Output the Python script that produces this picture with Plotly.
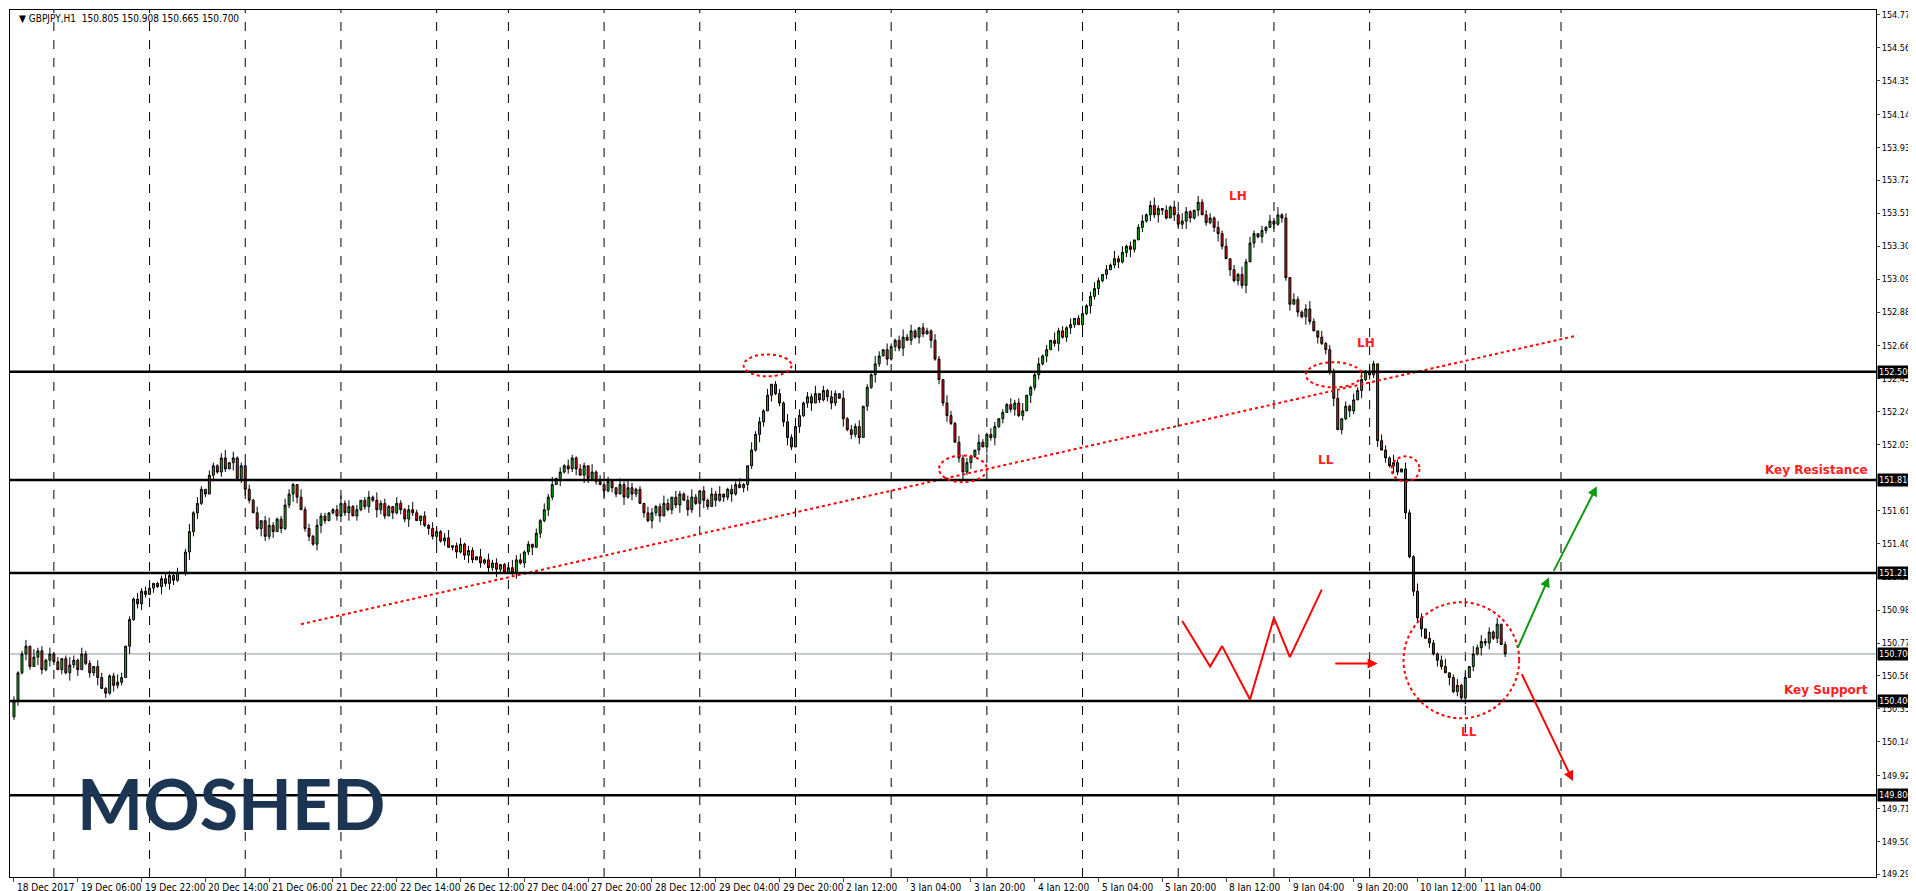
import plotly.graph_objects as go

closes = [
150.40,150.58,150.70,150.75,150.62,150.68,150.72,150.60,150.66,150.70,
150.65,150.60,150.67,150.58,150.63,150.66,150.60,150.70,150.64,150.58,
150.62,150.55,150.48,150.45,150.56,150.50,150.52,150.55,150.75,150.92,
151.05,151.02,151.10,151.08,151.12,151.15,151.13,151.18,151.15,151.20,
151.17,151.22,151.22,151.35,151.48,151.60,151.66,151.75,151.72,151.84,
151.90,151.86,151.95,151.88,151.92,151.95,151.82,151.90,151.75,151.68,
151.60,151.50,151.55,151.45,151.52,151.48,151.56,151.50,151.65,151.72,
151.78,151.70,151.62,151.50,151.45,151.40,151.52,151.58,151.55,151.60,
151.62,151.58,151.66,151.60,151.64,151.58,151.62,151.68,151.64,151.70,
151.68,151.62,151.66,151.58,151.64,151.60,151.66,151.62,151.56,151.62,
151.60,151.55,151.58,151.52,151.50,151.45,151.48,151.42,151.44,151.38,
151.39,151.35,151.40,151.33,151.36,151.30,151.32,151.28,151.30,151.25,
151.28,151.24,151.27,151.22,151.25,151.22,151.30,151.28,151.35,151.40,
151.38,151.47,151.55,151.62,151.70,151.78,151.82,151.86,151.90,151.88,
151.95,151.88,151.84,151.90,151.82,151.86,151.80,151.78,151.74,151.80,
151.76,151.72,151.78,151.70,151.76,151.72,151.75,151.66,151.60,151.55,
151.60,151.64,151.58,151.66,151.62,151.70,151.65,151.72,151.68,151.62,
151.70,151.66,151.74,151.68,151.64,151.72,151.68,151.72,151.70,151.75,
151.72,151.78,151.76,151.78,151.90,152.00,152.10,152.18,152.25,152.35,
152.42,152.36,152.30,152.18,152.08,152.02,152.15,152.22,152.30,152.34,
152.30,152.36,152.32,152.38,152.34,152.30,152.36,152.33,152.20,152.13,
152.10,152.15,152.08,152.28,152.40,152.48,152.55,152.60,152.64,152.58,
152.66,152.70,152.65,152.72,152.70,152.76,152.72,152.78,152.74,152.76,
152.70,152.58,152.45,152.30,152.22,152.17,152.05,151.95,151.86,151.92,
151.96,152.00,152.05,152.02,152.10,152.08,152.15,152.20,152.24,152.29,
152.26,152.30,152.22,152.25,152.35,152.40,152.48,152.55,152.60,152.64,
152.70,152.68,152.76,152.72,152.78,152.80,152.84,152.80,152.87,152.92,
152.98,153.03,153.08,153.12,153.15,153.18,153.22,153.20,153.26,153.30,
153.28,153.34,153.42,153.46,153.50,153.56,153.50,153.54,153.53,153.48,
153.55,153.50,153.44,153.46,153.52,153.48,153.53,153.58,153.50,153.45,
153.48,153.42,153.38,153.30,153.22,153.15,153.08,153.12,153.05,153.20,
153.32,153.38,153.36,153.40,153.42,153.46,153.44,153.50,153.48,153.10,
152.93,152.96,152.88,152.85,152.90,152.82,152.76,152.72,152.68,152.64,
152.50,152.33,152.13,152.20,152.28,152.25,152.32,152.38,152.45,152.50,
152.48,152.55,152.06,152.00,151.95,151.90,151.92,151.86,151.88,151.60,
151.32,151.10,150.93,150.86,150.80,150.77,150.70,150.66,150.62,150.58,
150.55,150.46,150.50,150.42,150.55,150.62,150.70,150.74,150.78,150.77,
150.84,150.80,150.89,150.76,150.70]

# wick extensions in 0.01 units (upper / lower)
hi_wick = ("31240523141302531422043112530214235012431302514203"
           "21350412231403521243105231422013524130241523104213"
           "52031421350241320514230125341203142503142132051423"
           "10425312043125304213520314250132410523140231520413"
           "25031420513240215304213524103214205314231052143021"
           "42350124130523140251342031524130241352031425310423"
           "31425031524203142513042135204132503142513204315204"
           "2153042135024130524231402")
lo_wick = ("23142053142031524013250314220513420315243102534120"
           "41320513420153240312540231452013425031241532041325"
           "20314251302413520314253102413250314205132405312041"
           "32051420315240132504213520413251034215304123520413"
           "50213420513240315204132503142051324103524130425130"
           "24130523140251342031524130241352031425310423531402"
           "13520413250314205132403152041325031420513240315204"
           "1325031420513240315241302")

first_open = 150.30

tick_pos = [0,16,32,48,64,80,96,112,128,144,160,176,192,208,224,240,256,272,288,304,320,336,352,368]
tick_text = ["18 Dec 2017","19 Dec 06:00","19 Dec 22:00","20 Dec 14:00","21 Dec 06:00","21 Dec 22:00",
             "22 Dec 14:00","26 Dec 12:00","27 Dec 04:00","27 Dec 20:00","28 Dec 12:00","29 Dec 04:00",
             "29 Dec 20:00","2 Jan 12:00","3 Jan 04:00","3 Jan 20:00","4 Jan 12:00","5 Jan 04:00",
             "5 Jan 20:00","8 Jan 12:00","9 Jan 04:00","9 Jan 20:00","10 Jan 12:00","11 Jan 04:00"]
grid_pos = [10,34,58,82,106,124,148,172,196,220,244,268,292,316,340,364,388]

y_ticks = [154.775,154.565,154.355,154.140,153.930,153.720,153.510,153.300,153.090,152.880,152.665,
           152.455,152.245,152.035,151.615,151.405,151.190,150.980,150.770,150.560,150.350,150.140,
           149.925,149.715,149.505,149.295]
level_lines = [152.500, 151.810, 151.217, 150.400, 149.800]
current_price = 150.700

trend_x = [72, 392]; trend_y = [150.89, 152.73]
ellipses = [(189,152.54,6,0.07),(238,151.88,6,0.085),(331,152.48,7,0.08),(349,151.88,3.5,0.08),(363,150.66,14.5,0.37)]
zig_x = [293,300,303,310,316,320,328]
zig_y = [150.91,150.62,150.75,150.41,150.93,150.68,151.11]
arrows = [  # x0,y0,x1,y1,color
    (331,150.64,342,150.64,"#ff0000"),
    (377,150.73,385,151.19,"#119911"),
    (386,151.22,397,151.77,"#119911"),
    (378,150.58,391,149.89,"#ff0000")]
marks = [("LH",307,153.62),("LH",339,152.68),("LL",329,151.94),("LL",365,150.20)]

FONT = "DejaVu Sans Condensed"

n = len(closes)
x = list(range(n))
opens = [first_open] + closes[:-1]
highs = [max(o, c) + int(hi_wick[i]) * 0.01 for i, (o, c) in enumerate(zip(opens, closes))]
lows = [min(o, c) - int(lo_wick[i]) * 0.01 for i, (o, c) in enumerate(zip(opens, closes))]

fig = go.Figure()
fig.add_trace(go.Candlestick(x=x, open=opens, high=highs, low=lows, close=closes,
    increasing=dict(line=dict(color="black", width=1), fillcolor="#22b222"),
    decreasing=dict(line=dict(color="black", width=1), fillcolor="#ee1111"),
    whiskerwidth=0, showlegend=False, hoverinfo="skip"))

shapes = []
for g in grid_pos:
    shapes.append(dict(type="line", xref="x", yref="paper", x0=g, x1=g, y0=0, y1=1,
                       line=dict(color="black", width=1, dash="dash"), layer="below"))
for lv in level_lines:
    shapes.append(dict(type="line", xref="paper", yref="y", x0=0, x1=1, y0=lv, y1=lv,
                       line=dict(color="black", width=2.5)))
shapes.append(dict(type="line", xref="paper", yref="y", x0=0, x1=1, y0=current_price, y1=current_price,
                   line=dict(color="#8a95a5", width=1), layer="below"))
for cx, cy, rx, ry in ellipses:
    shapes.append(dict(type="circle", xref="x", yref="y", x0=cx-rx, x1=cx+rx, y0=cy-ry, y1=cy+ry,
                       line=dict(color="#ff0000", width=2, dash="dot")))
fig.update_layout(shapes=shapes)

fig.add_trace(go.Scatter(x=trend_x, y=trend_y, mode="lines", line=dict(color="#ff0000", width=2, dash="dot"),
                         showlegend=False, hoverinfo="skip"))
fig.add_trace(go.Scatter(x=zig_x, y=zig_y, mode="lines", line=dict(color="#ff0000", width=2),
                         showlegend=False, hoverinfo="skip"))

ann = []
for x0, y0, x1, y1, col in arrows:
    ann.append(dict(x=x1, y=y1, ax=x0, ay=y0, xref="x", yref="y", axref="x", ayref="y", text="",
                    showarrow=True, arrowhead=2, arrowsize=1, arrowwidth=2, arrowcolor=col))
for t, mx, my in marks:
    ann.append(dict(x=mx, y=my, xref="x", yref="y", text="<b>"+t+"</b>", showarrow=False,
                    font=dict(color="#ff2020", size=12, family="DejaVu Sans")))
ann.append(dict(x=0.997, y=151.87, xref="paper", yref="y", xanchor="right", text="<b>Key Resistance</b>",
                showarrow=False, font=dict(color="#ff2020", size=12, family="DejaVu Sans")))
ann.append(dict(x=0.997, y=150.47, xref="paper", yref="y", xanchor="right", text="<b>Key Support</b>",
                showarrow=False, font=dict(color="#ff2020", size=12, family="DejaVu Sans")))
for lv in level_lines + [current_price]:
    ann.append(dict(x=1.0, y=lv, xref="paper", yref="y", xanchor="left", xshift=1, text=f"{lv:.3f}",
                    showarrow=False, bgcolor="black", font=dict(color="white", size=9, family=FONT),
                    borderpad=1))
for tp, tt in zip(tick_pos, tick_text):
    ann.append(dict(x=tp, y=0, xref="x", yref="paper", xanchor="left", yanchor="top", yshift=-3, xshift=1,
                    text=tt, showarrow=False, font=dict(color="black", size=10, family=FONT)))
ann.append(dict(x=0.004, y=0.999, xref="paper", yref="paper", xanchor="left", yanchor="top",
                text="▼ GBPJPY,H1  150.805 150.908 150.665 150.700", showarrow=False,
                font=dict(color="black", size=10, family=FONT)))
ann.append(dict(x=0.035, y=0.035, xref="paper", yref="paper", xanchor="left", yanchor="bottom",
                text="<b>MOSHED</b>", showarrow=False,
                font=dict(color="#1c3553", size=70, family="Lato")))
fig.update_layout(annotations=ann)

fig.update_layout(
    width=1916, height=891, paper_bgcolor="white", plot_bgcolor="white",
    margin=dict(l=2, r=48, t=2, b=22),
    font=dict(family=FONT, size=9, color="black"),
    xaxis=dict(range=[-1, 467], rangeslider=dict(visible=False), tickvals=tick_pos, showticklabels=False,
               showgrid=False, zeroline=False, showline=True, linecolor="black", mirror=True,
               ticks="outside", ticklen=4),
    yaxis=dict(range=[149.278, 154.806], side="right", tickvals=y_ticks, ticktext=[f"{v:.3f}" for v in y_ticks],
               showgrid=False, zeroline=False, showline=True, linecolor="black", mirror=True,
               ticks="outside", ticklen=3, tickfont=dict(size=9, family=FONT)),
)
fig.write_html("out.html")
